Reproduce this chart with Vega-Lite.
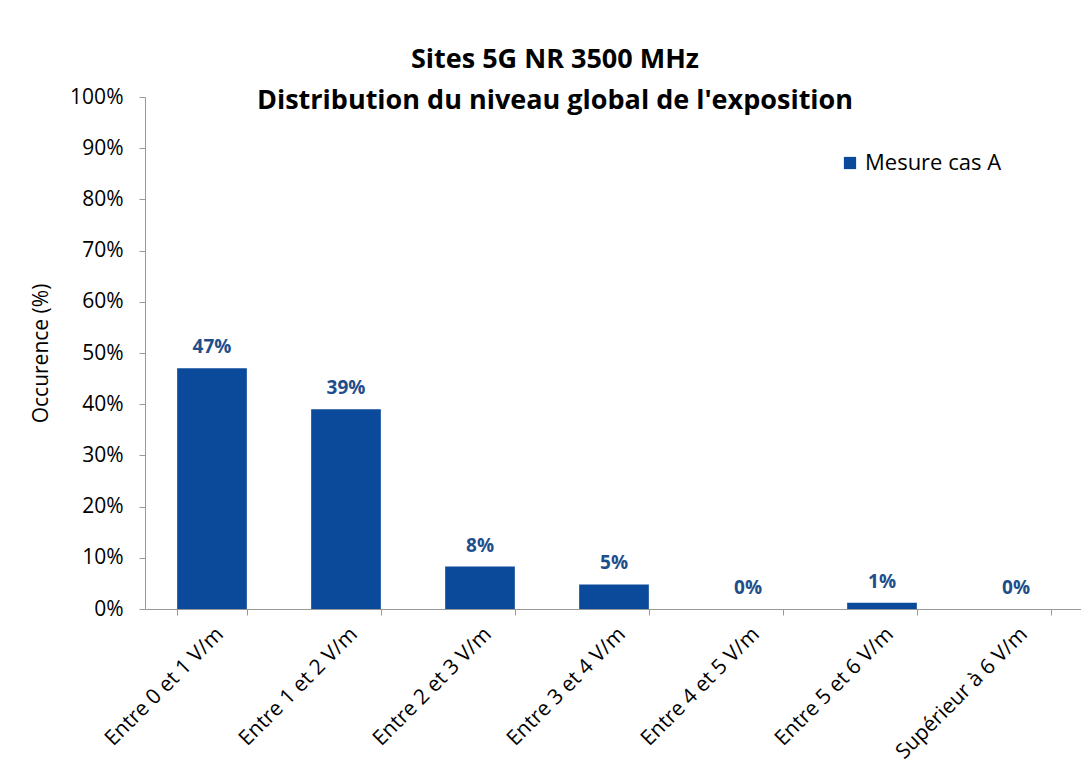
{
  "$schema": "https://vega.github.io/schema/vega-lite/v6.json",
  "width": 938,
  "height": 512,
  "autosize": "none",
  "padding": {"left": 145, "top": 97, "right": 0, "bottom": 167},
  "background": "white",
  "title": {
    "text": ["Sites 5G NR 3500 MHz", "Distribution du niveau global de l'exposition"],
    "font": "Open Sans",
    "fontSize": 27,
    "fontWeight": "bold",
    "color": "#000000",
    "anchor": "middle",
    "dx": -59,
    "offset": -29,
    "lineHeight": 41
  },
  "data": {
    "values": [
      {"cat": "Entre 0 et 1 V/m", "v": 0.47, "series": "Mesure cas A"},
      {"cat": "Entre 1 et 2 V/m", "v": 0.39, "series": "Mesure cas A"},
      {"cat": "Entre 2 et 3 V/m", "v": 0.083, "series": "Mesure cas A"},
      {"cat": "Entre 3 et 4 V/m", "v": 0.048, "series": "Mesure cas A"},
      {"cat": "Entre 4 et 5 V/m", "v": 0.0, "series": "Mesure cas A"},
      {"cat": "Entre 5 et 6 V/m", "v": 0.012, "series": "Mesure cas A"},
      {"cat": "Supérieur à 6 V/m", "v": 0.0, "series": "Mesure cas A"}
    ]
  },
  "encoding": {
    "x": {
      "field": "cat",
      "type": "nominal",
      "sort": null,
      "scale": {"paddingInner": 0.48, "paddingOuter": 0.24},
      "axis": {
        "title": null,
        "labelAngle": -45,
        "labelFont": "Open Sans",
        "labelFontSize": 21,
        "labelColor": "#000000",
        "labelPadding": 8,
        "labelLimit": 400,
        "labelOverlap": false,
        "tickBand": "extent",
        "tickSize": 6,
        "tickColor": "#999999",
        "domainColor": "#999999",
        "grid": false
      }
    },
    "y": {
      "field": "v",
      "type": "quantitative",
      "scale": {"domain": [0, 1]},
      "axis": {
        "title": "Occurence (%)",
        "titleFont": "Open Sans",
        "titleFontSize": 21,
        "titleFontWeight": "normal",
        "titleColor": "#000000",
        "titlePadding": 18,
        "format": ".0%",
        "values": [0, 0.1, 0.2, 0.3, 0.4, 0.5, 0.6, 0.7, 0.8, 0.9, 1],
        "labelOverlap": false,
        "labelFont": "Open Sans",
        "labelFontSize": 21,
        "labelColor": "#000000",
        "labelPadding": 16,
        "tickSize": 6,
        "tickColor": "#999999",
        "domainColor": "#999999",
        "grid": false
      }
    }
  },
  "layer": [
    {
      "mark": {"type": "bar"},
      "encoding": {
        "color": {
          "field": "series",
          "type": "nominal",
          "scale": {"range": ["#0B4A9A"]},
          "legend": {
            "title": null,
            "orient": "none",
            "legendX": 694,
            "legendY": 55,
            "symbolType": "square",
            "symbolSize": 150,
            "labelFont": "Open Sans",
            "labelFontSize": 22,
            "labelColor": "#000000"
          }
        }
      }
    },
    {
      "mark": {
        "type": "text",
        "baseline": "bottom",
        "dy": -11,
        "font": "Open Sans",
        "fontSize": 19,
        "fontWeight": "bold",
        "color": "#1F4E8C"
      },
      "encoding": {
        "text": {"field": "v", "type": "quantitative", "format": ".0%"}
      }
    }
  ],
  "config": {"view": {"stroke": null}}
}
